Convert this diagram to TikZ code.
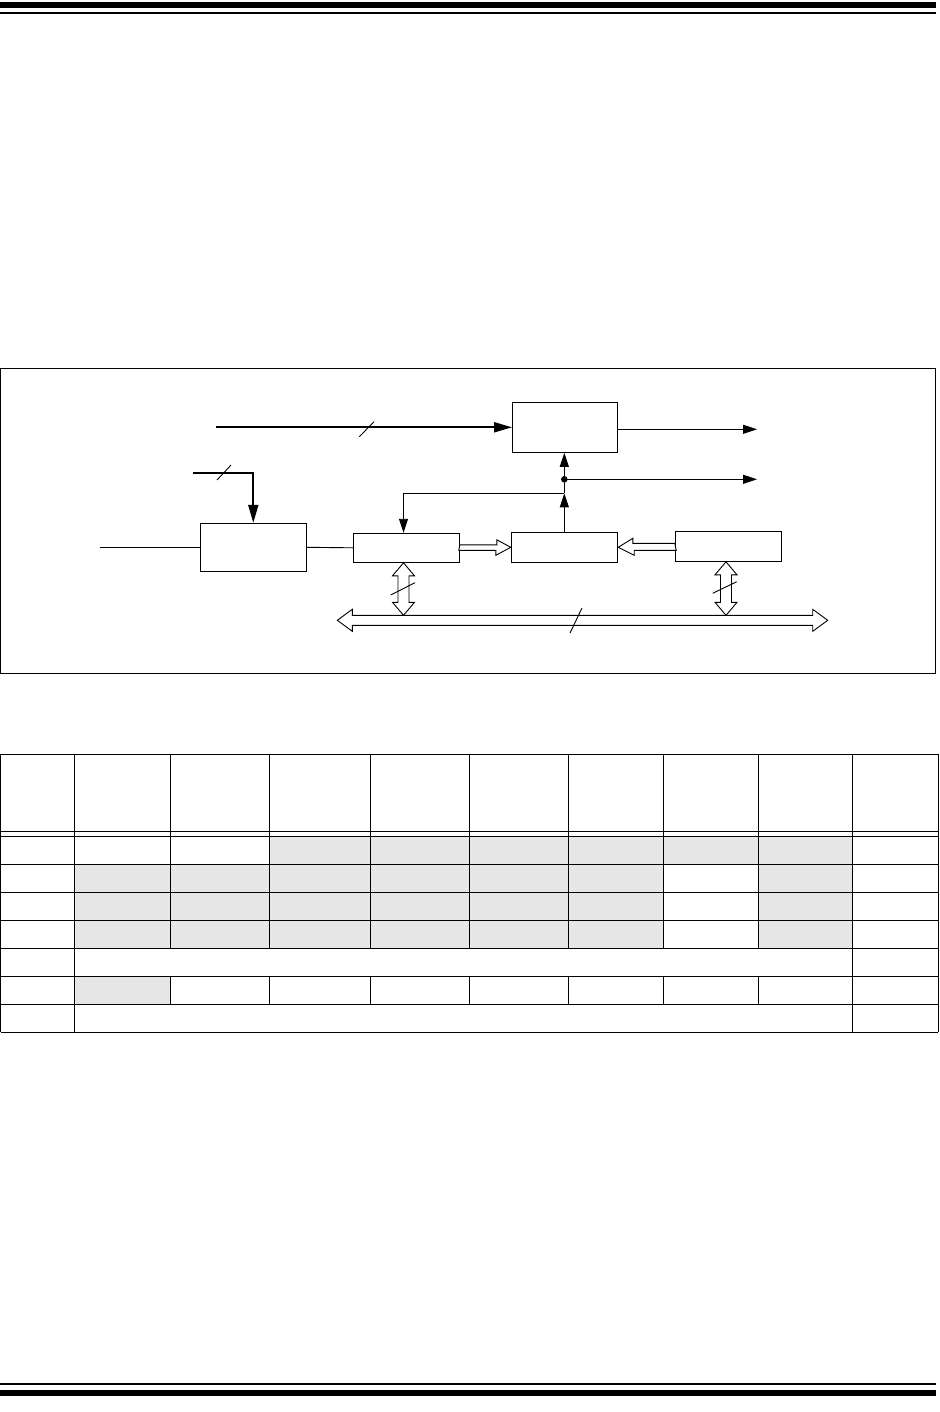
\documentclass[tikz,border=0pt]{standalone}
\usepackage{tikz}
\usetikzlibrary{calc,arrows.meta,positioning}
\definecolor{tblGray}{RGB}{230,230,230}

\tikzset{
  blk/.style={draw, line width=1pt, inner sep=0pt, minimum width=106pt, minimum height=30pt},
  heavyarrow/.style={line width=2pt, -{Triangle[length=18pt,width=10pt]}},
  lightarrow/.style={line width=0.9pt, -{Triangle[length=14pt,width=9pt]}},
  busarrow/.style={draw, line width=0.9pt, fill=white, line join=miter},
  slashmark/.style={line width=0.9pt},
  gridline/.style={line width=1pt}
}

\begin{document}
\begin{tikzpicture}[x=1pt,y=-1pt]
    \useasboundingbox (0,0) rectangle (939,1412);

    % page rules
    \fill (0,2) rectangle (936,8);
    \fill (0,12) rectangle (936,14);
    \fill (0,1383) rectangle (936,1385);
    \fill (0,1390) rectangle (936,1396);

    % figure frame
    \draw[line width=1pt] (0.5,368.3) rectangle (935,673);

    % blocks
    \node[blk, minimum width=105pt, minimum height=50pt] (sel) at (565,427.3) {};
    \node[blk, minimum height=48pt] (src) at (253.3,547.3) {};
    \node[blk, minimum height=29pt] (reg) at (406.3,547.8) {};
    \node[blk, minimum width=106.4pt] (ctl) at (564.5,547.3) {};
    \node[blk, minimum width=106.4pt] (cfg) at (728.5,546.3) {};

    % free ends and taps
    \coordinate (vin) at (216,427.3);
    \coordinate (pin) at (193.3,472.7);
    \coordinate (ain) at (100,547.3);
    \coordinate (out1) at (757,429.3);
    \coordinate (out2) at (757,479.3);
    \coordinate (jn) at (564.3,479.3);
    \coordinate (tap) at (564.3,493.3);
    \coordinate (tapB) at (403.5,615.3);
    \coordinate (tapD) at (726,615.3);
    \coordinate (busL) at (337.3,620.3);
    \coordinate (busR) at (827.7,620.3);

    % wide inputs
    \draw[heavyarrow] (vin) -- (sel.west);
    \draw[slashmark] (359.3,436.7) -- (374,421.7);
    \draw[heavyarrow] (pin) -| (src.north);
    \draw[slashmark] (217,480) -- (231,465);

    % signal lines
    \draw[line width=0.9pt] (ain) -- (src.west);
    \draw[line width=0.9pt] (src.east) -- (reg.west);
    \draw[lightarrow] (sel.east |- out1) -- (out1);
    \draw[lightarrow] (ctl.north -| tap) -- (tap);
    \draw[lightarrow] (tap) -- (tap |- sel.south);
    \draw[lightarrow] (tap) -| (reg.north -| tapB);
    \fill (jn) circle (3.3);
    \draw[lightarrow] (jn) -- (out2);

    % hollow data arrows
    \draw[busarrow] ($(reg.east)+(0,-3)$) -- ++(37,0) -- ++(0,-5) -- (ctl.west)
        -- ++(-15,8) -- ++(0,-5) -- ++(-37,0) -- cycle;
    \draw[busarrow] ($(cfg.west)+(0,-3)$) -- ++(-42,0) -- ++(0,-5) -- (ctl.east)
        -- ++(16,8) -- ++(0,-5) -- ++(42,0) -- cycle;

    % data bus
    \draw[busarrow] (busL) -- ++(15,-11) -- ++(0,6) -- ($(busR)+(-15,-5)$) -- ++(0,-6)
        -- (busR) -- ++(-15,11) -- ++(0,-6) -- ($(busL)+(15,5)$) -- ++(0,6) -- cycle;
    \draw[slashmark] (570,633) -- (582,608);

    % bus links
    \draw[busarrow] (reg.south -| tapB) -- ++(11,13) -- ++(-5.5,0) -- ($(tapB)+(5.5,-13)$)
        -- ++(5.5,0) -- (tapB) -- ++(-11,-13) -- ++(5.5,0)
        -- ($(reg.south -| tapB)+(-5.5,13)$) -- ++(-5.5,0) -- cycle;
    \draw[slashmark] (390.7,595) -- (415,582.7);
    \draw[busarrow] (cfg.south -| tapD) -- ++(11,13) -- ++(-5.5,0) -- ($(tapD)+(5.5,-13)$)
        -- ++(5.5,0) -- (tapD) -- ++(-11,-13) -- ++(5.5,0)
        -- ($(cfg.south -| tapD)+(-5.5,13)$) -- ++(-5.5,0) -- cycle;
    \draw[slashmark] (712.7,593.3) -- (736.7,581.7);

    % register table, shaded cells
    \fill[tblGray] (269.3,836.3) rectangle (852.3,864.3);
    \fill[tblGray] (74.3,864.3) rectangle (663.3,948.3);
    \fill[tblGray] (758.3,864.3) rectangle (852.3,948.3);
    \fill[tblGray] (74.3,976.3) rectangle (170.3,1004.3);

    % register table, rules
    \foreach \y in {754.3,831,836.3,864.3,892.3,920.3,948.3,976.3,1004.3,1032.3}
      \draw[gridline] (0.5,\y) -- (938.3,\y);
    \foreach \x in {0.5,74.3,852.3,938.3}
      \draw[gridline] (\x,754.3) -- (\x,1032.3);
    \foreach \x in {170.3,269.3,370.3,469,568.3,663.3,758.3} {
      \draw[gridline] (\x,754.3) -- (\x,948.3);
      \draw[gridline] (\x,976.3) -- (\x,1004.3);
    }

\end{tikzpicture}
\end{document}
